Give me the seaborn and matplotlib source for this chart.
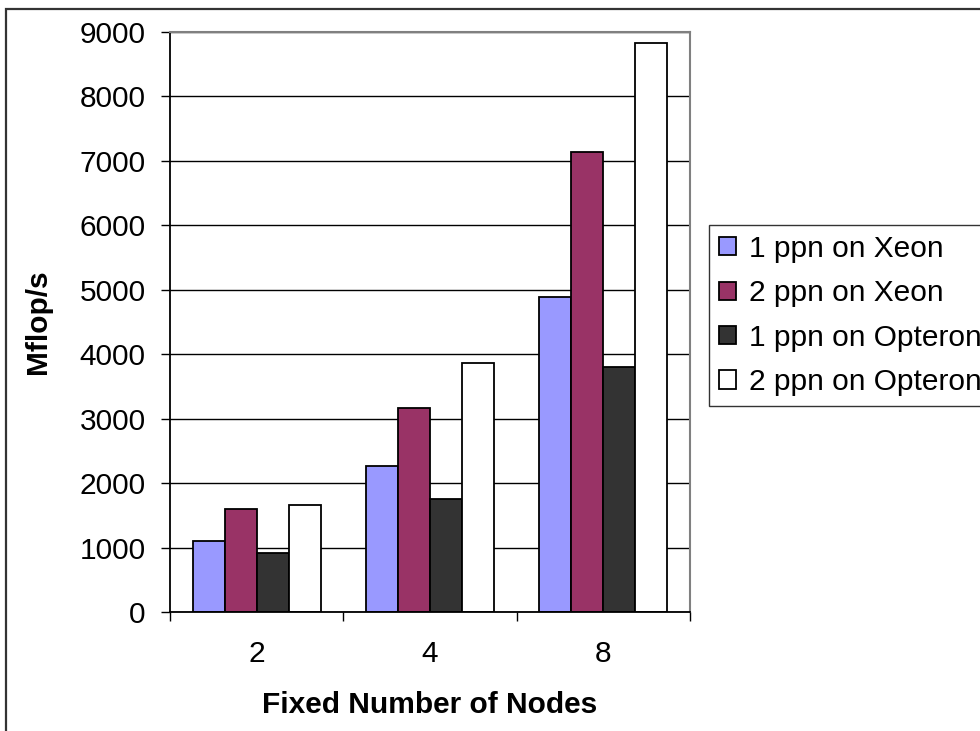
import numpy as np
import pandas as pd
import matplotlib
matplotlib.use("Agg")
import matplotlib.pyplot as plt
from matplotlib.patches import Rectangle
import seaborn as sns

# ---- data ----
nodes = ["2", "4", "8"]
series_names = ["1 ppn on Xeon", "2 ppn on Xeon", "1 ppn on Opteron", "2 ppn on Opteron"]
xeon_1ppn = [1100, 2260, 4895]
xeon_2ppn = [1595, 3170, 7140]
opteron_1ppn = [910, 1760, 3805]
opteron_2ppn = [1655, 3865, 8835]
colors = ["#9999FF", "#993366", "#333333", "#FFFFFF"]
y_ticks = [0, 1000, 2000, 3000, 4000, 5000, 6000, 7000, 8000, 9000]

values = [xeon_1ppn, xeon_2ppn, opteron_1ppn, opteron_2ppn]
df = pd.DataFrame({
    "Nodes": np.tile(nodes, len(series_names)),
    "Series": np.repeat(series_names, len(nodes)),
    "Mflops": np.concatenate(values),
})

sns.set_theme(style="white")
plt.rcParams["font.family"] = ["Liberation Sans", "DejaVu Sans"]

W, H = 980, 731
fig = plt.figure(figsize=(W / 100, H / 100), dpi=100)
ax = fig.add_axes([170 / W, (H - 612) / H, 520 / W, 580 / H])

sns.barplot(data=df, x="Nodes", y="Mflops", hue="Series", order=nodes,
            hue_order=series_names, palette=colors, width=0.74,
            edgecolor="black", linewidth=1.3, saturation=1, ax=ax, legend=True)

ax.set_xlim(-0.5, 2.5)
ax.set_ylim(0, 9000)
ax.set_yticks(y_ticks)
ax.yaxis.grid(True, color="black", linewidth=1.0)
ax.set_axisbelow(True)

for s in ["top", "right"]:
    ax.spines[s].set_color("#808080")
    ax.spines[s].set_linewidth(1.5)
for s in ["left", "bottom"]:
    ax.spines[s].set_color("black")
    ax.spines[s].set_linewidth(1.3)

fs = 21.5
ax.tick_params(axis="y", which="major", direction="out", length=6.5, width=1,
               color="black", pad=11, labelsize=fs, left=True, labelcolor="black")
ax.set_xticks([-0.5, 0.5, 1.5, 2.5], minor=True)
ax.tick_params(axis="x", which="minor", direction="out", length=6.5, width=1,
               color="black", bottom=True)
ax.tick_params(axis="x", which="major", length=0, pad=20, labelsize=fs,
               labelcolor="black")

ax.set_xlabel("Fixed Number of Nodes", fontsize=fs, fontweight="bold", color="black")
ax.set_ylabel("Mflop/s", fontsize=fs, fontweight="bold", color="black")
ax.xaxis.set_label_coords(0.5, -0.136)
ax.yaxis.set_label_coords(-0.227, 0.5)

leg = ax.legend(loc="upper left", bbox_to_anchor=(709 / W, (H - 225) / H),
                bbox_transform=fig.transFigure, borderaxespad=0,
                fontsize=fs, frameon=True, fancybox=False, shadow=False,
                handlelength=0.57, handleheight=0.57, handletextpad=0.43,
                labelspacing=0.55, borderpad=0.33, edgecolor="black")
leg.get_frame().set_linewidth(1.0)
for t in leg.get_texts():
    t.set_color("black")

# outer chart frame (left and top visible, rest cropped)
fig.add_artist(Rectangle((6 / W, -0.1), 1.2, (H - 9) / H + 0.1,
                         transform=fig.transFigure, fill=False,
                         edgecolor="#333333", linewidth=1.6))

fig.savefig("out.png", dpi=100, facecolor="white")
